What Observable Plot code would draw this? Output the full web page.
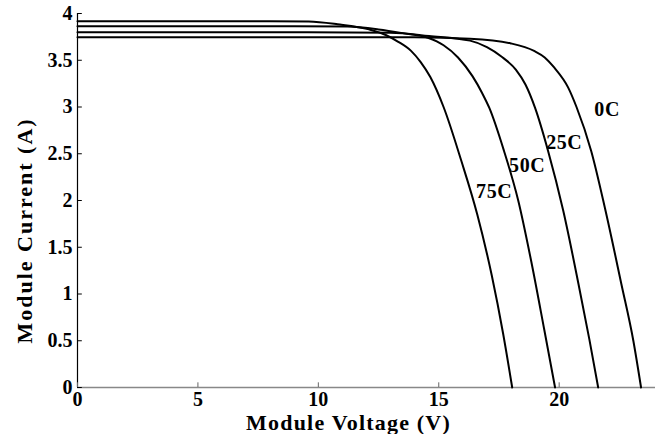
<!DOCTYPE html>
<html>
<head>
<meta charset="utf-8">
<script src="https://cdn.jsdelivr.net/npm/d3@7"></script>
<script src="https://cdn.jsdelivr.net/npm/@observablehq/plot@0.6"></script>
<style>
  html, body { margin: 0; padding: 0; background: #fff; }
  #chart svg { display: block; }
</style>
</head>
<body>
<div id="chart"></div>
<script>
// Temperature series (Module Voltage V, Module Current A)
const series = ["0C", "25C", "50C", "75C"];
const volt0  = [0, 8, 14, 16.3, 18.0, 18.96, 19.4, 19.8, 20.37, 20.72, 21.33, 21.9, 22.58, 23.08, 23.4];
const curr0  = [3.747, 3.747, 3.745, 3.73, 3.68, 3.60, 3.53, 3.42, 3.21, 3.0, 2.53, 1.92, 1.11, 0.5, 0];
const volt25 = [0, 8, 13, 14.6, 16.3, 17.0, 17.6, 18.2, 18.6, 19.0, 19.54, 20.17, 20.8, 21.25, 21.62];
const curr25 = [3.80, 3.80, 3.795, 3.76, 3.71, 3.64, 3.54, 3.40, 3.24, 2.99, 2.53, 1.89, 1.11, 0.52, 0];
const volt50 = [0, 8, 11.2, 12.5, 13.5, 14.55, 15.2, 15.8, 16.4, 16.8, 17.1, 17.71, 18.3, 18.84, 19.38, 19.83];
const curr50 = [3.864, 3.864, 3.86, 3.83, 3.79, 3.74, 3.66, 3.53, 3.33, 3.15, 2.99, 2.53, 2.0, 1.35, 0.62, 0];
const volt75 = [0, 8, 9.6, 10.8, 12.1, 12.8, 13.3, 13.85, 14.25, 14.65, 15.2, 15.93, 16.6, 17.2, 17.67, 18.05];
const curr75 = [3.918, 3.918, 3.915, 3.885, 3.83, 3.77, 3.70, 3.60, 3.48, 3.32, 3.0, 2.43, 1.85, 1.2, 0.58, 0];

// Curve label positions
const labelText = ["0C", "25C", "50C", "75C"];
const labelV = [21.46, 19.46, 17.92, 16.55];
const labelI = [2.97, 2.62, 2.37, 2.09];

// Ticks and titles
const xTicks = [0, 5, 10, 15, 20];
const yTicks = [0, 0.5, 1, 1.5, 2, 2.5, 3, 3.5, 4];
const xTitle = "Module Voltage (V)";
const yTitle = "Module Current (A)";

const toRows = (name, v, c) => v.map((x, i) => ({series: name, V: x, I: c[i]}));
const rows = [
  ...toRows("0C", volt0, curr0),
  ...toRows("25C", volt25, curr25),
  ...toRows("50C", volt50, curr50),
  ...toRows("75C", volt75, curr75)
];
const labels = labelText.map((t, i) => ({t, V: labelV[i], I: labelI[i]}));

const font = "'Liberation Serif', 'Times New Roman', serif";

const chart = Plot.plot({
  width: 660,
  height: 434,
  marginLeft: 77,
  marginRight: 5,
  marginTop: 13,
  marginBottom: 47,
  style: {fontFamily: font, fontWeight: "bold", background: "#fff", color: "#000"},
  x: {domain: [0, 24]},
  y: {domain: [0, 4]},
  marks: [
    Plot.axisX(xTicks, {tickSize: 0, tickPadding: 4, fontSize: 20, fontWeight: "bold", label: null}),
    Plot.axisY(yTicks, {tickSize: 0, tickPadding: 5, fontSize: 20, fontWeight: "bold",
      tickFormat: d => String(d), label: null}),
    Plot.text([xTitle], {frameAnchor: "bottom", textAnchor: "middle", lineAnchor: "middle",
      dx: -18, dy: 35, fontSize: 22, fontWeight: "bold", fill: "#000", className: "ttlx"}),
    Plot.text([yTitle], {frameAnchor: "left", textAnchor: "middle", lineAnchor: "middle", rotate: -90,
      dx: -53, dy: 30, fontSize: 22, fontWeight: "bold", fill: "#000", className: "ttly"}),
    Plot.ruleY([0], {stroke: "#888", strokeWidth: 1.5}),
    Plot.ruleX([0], {stroke: "#000", strokeWidth: 1.2}),
    Plot.ruleY(yTicks, {x1: 0, x2: 0.2, stroke: "#000"}),
    Plot.ruleX(xTicks, {y1: 0, y2: 0.05, stroke: "#666"}),
    Plot.line(rows, {x: "V", y: "I", z: "series", stroke: "#000", strokeWidth: 2, curve: "monotone-x"}),
    Plot.text(labels, {x: "V", y: "I", text: "t", textAnchor: "start", fontSize: 20, fontWeight: "bold", fill: "#000", className: "clab"})
  ]
});
d3.select(chart).selectAll(".ttlx text").style("letter-spacing", "1.2px");
d3.select(chart).selectAll(".ttly text").style("letter-spacing", "2px");
d3.select(chart).selectAll(".clab text").style("letter-spacing", "0.6px");
document.getElementById("chart").appendChild(chart);
</script>
</body>
</html>
